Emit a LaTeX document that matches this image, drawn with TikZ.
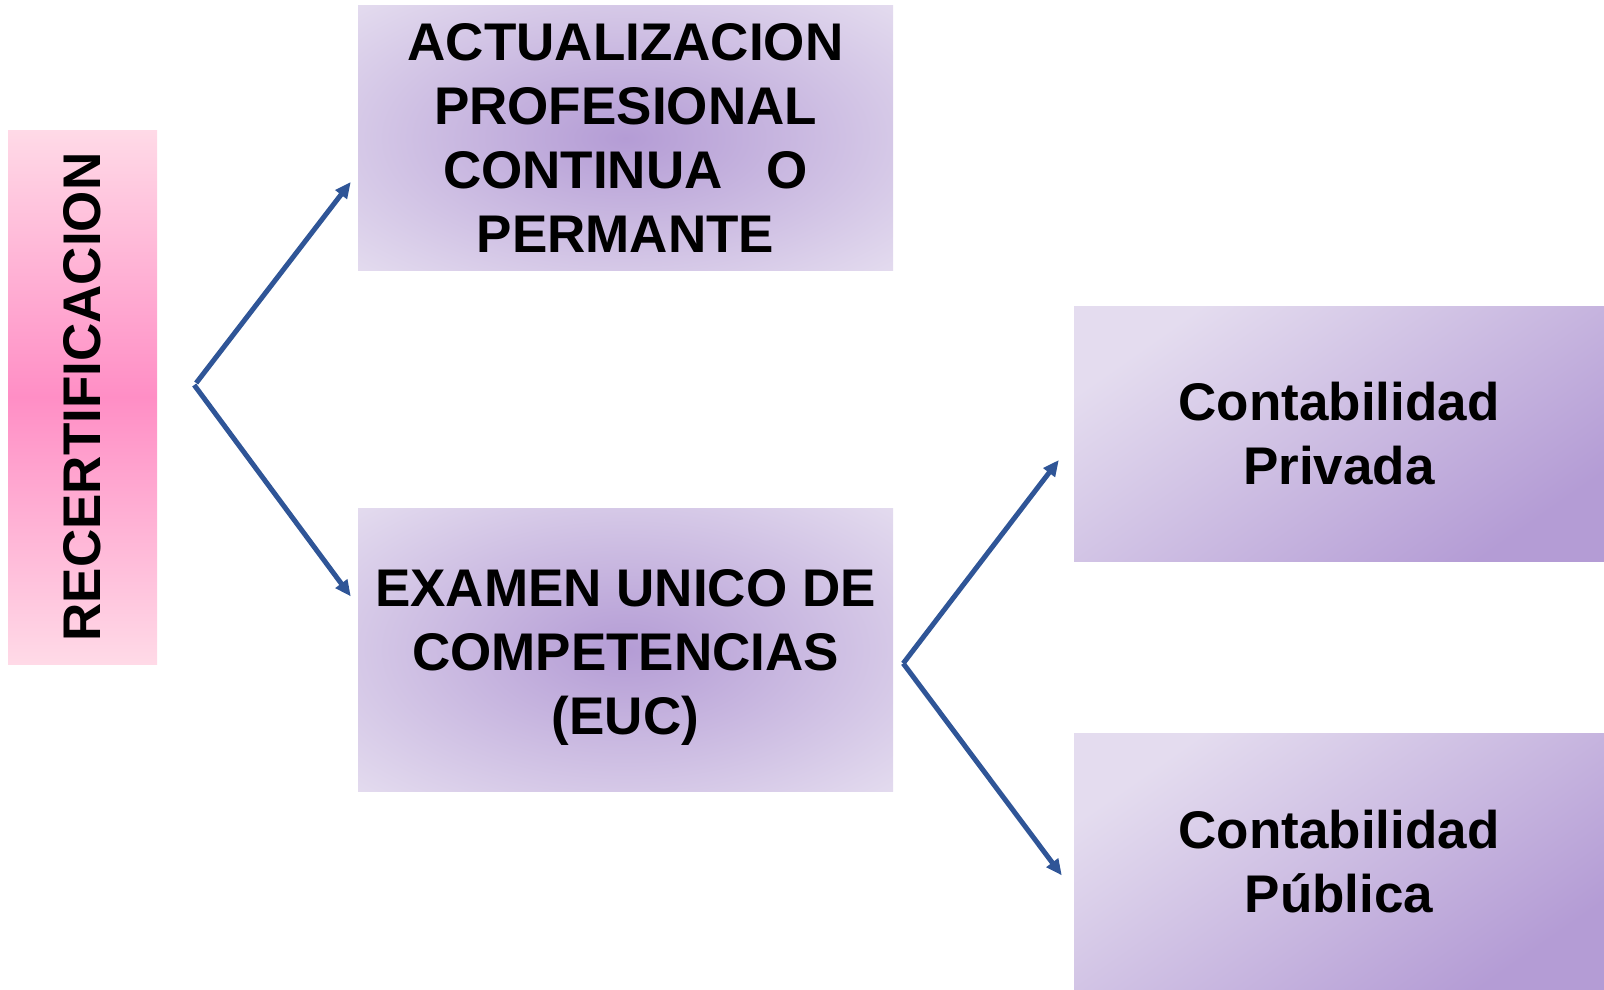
\documentclass[tikz,border=0pt]{standalone}
\usepackage{fontspec}
\setmainfont{Liberation Sans}
\usetikzlibrary{positioning,arrows.meta}
\definecolor{flecha}{HTML}{2F5597}
\definecolor{rosa}{HTML}{FF8EC5}
\definecolor{rosaclaro}{HTML}{FFDAE7}
\definecolor{lila}{HTML}{B49CD5}
\definecolor{lilaclaro}{HTML}{E4DCEF}
\pgfdeclareradialshading{lilasuave}{\pgfpoint{0bp}{0bp}}{color(0bp)=(lila); color(36bp)=(lilaclaro); color(50bp)=(lilaclaro)}
\newcommand{\bajar}[1]{\raisebox{-8pt}[\height][\depth]{\begin{tabular}{@{}c@{}}#1\end{tabular}}}
\tikzset{
  caja/.style={inner sep=0pt, align=center, font=\fontsize{53}{64}\selectfont\bfseries},
  rosada/.style={caja, top color=rosaclaro, bottom color=rosaclaro, middle color=rosa},
  centro/.style={caja, shading=lilasuave},
  lado/.style={caja, top color=lilaclaro, bottom color=lila, shading angle=35},
  rama/.style={draw=flecha, line width=5pt, -{Triangle[length=16pt,width=14pt]}}
}
\begin{document}
\begin{tikzpicture}[x=1pt,y=-1pt]
  \useasboundingbox (0,0) rectangle (1604,990);
  \node[rosada, minimum width=149pt, minimum height=534pt] (rec) at (82.5,397) {\rotatebox{90}{RECERTIFICACION}};
  \node[centro, minimum width=535pt, minimum height=264pt] (act) at (625.5,138)
    {ACTUALIZACION\\PROFESIONAL\\CONTINUA\hspace{44pt}O\\PERMANTE};
  \node[centro, minimum width=535pt, minimum height=283pt] (exa) [below=238pt of act]
    {\bajar{EXAMEN UNICO DE\\COMPETENCIAS\\(EUC)}};
  \node[lado, minimum width=530pt, minimum height=255pt] (priv) at (1339,433.5) {Contabilidad\\Privada};
  \node[lado, minimum width=530pt, minimum height=257pt] (pub) [below=172pt of priv] {Contabilidad\\Pública};
  % bifurcaciones
  \coordinate (v1) at ([shift={(37,-12)}]rec.east);
  \coordinate (v2) at ([shift={(10,13.5)}]exa.east);
  \coordinate (t1) at ([shift={(-7,44)}]act.west);
  \coordinate (t2) at ([shift={(-7,-53.5)}]exa.west);
  \coordinate (t3) at ([shift={(-15,26.5)}]priv.west);
  \coordinate (t4) at ([shift={(-12,13.5)}]pub.west);
  \draw[rama] ([shift={(2,-2)}]v1) -- (t1);
  \draw[rama] (v1) -- (t2);
  \draw[rama] (v2) -- (t3);
  \draw[rama] (v2) -- (t4);
\end{tikzpicture}
\end{document}
